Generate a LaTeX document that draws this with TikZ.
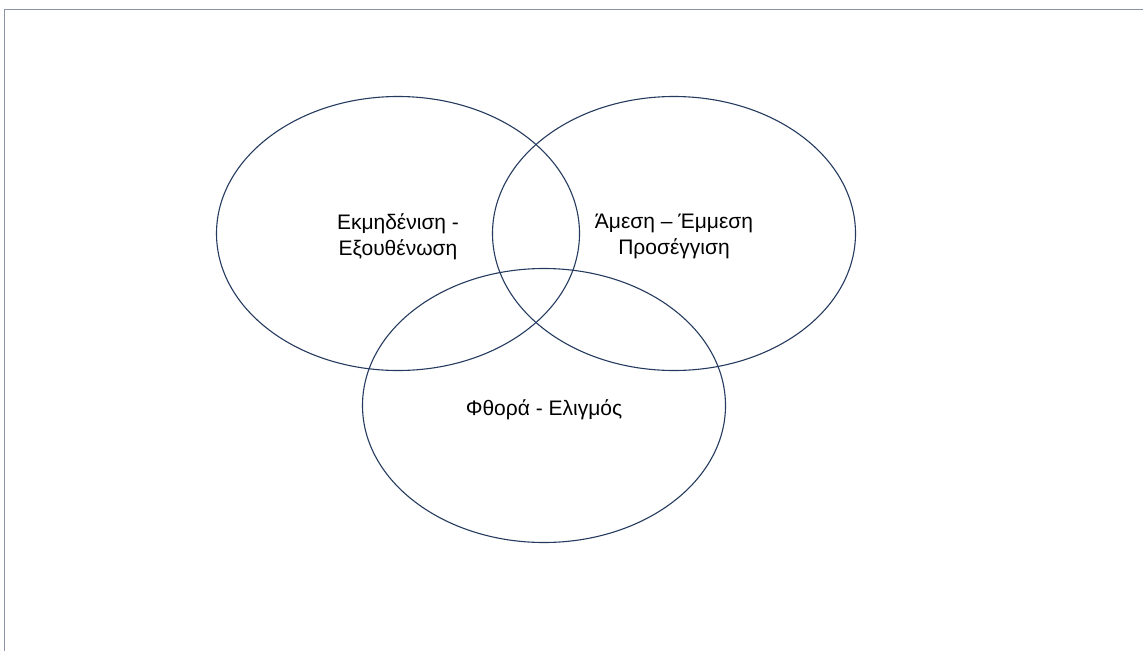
\documentclass[tikz,border=0pt]{standalone}
\usepackage{fontspec}
\setmainfont{Liberation Sans}
\usetikzlibrary{shapes.geometric}
\definecolor{navy}{HTML}{243A5E}
\definecolor{framegray}{HTML}{8C93A6}
\begin{document}
\begin{tikzpicture}[x=1pt,y=-1pt,
  venn/.style={ellipse, draw=navy, line width=1.1pt, minimum width=363pt, minimum height=274pt, inner sep=0pt},
  lbl/.style={align=center, font=\fontsize{21}{26}\selectfont, text=black},
  framel/.style={draw=framegray, line width=1pt}]
\useasboundingbox (0,0) rectangle (1143,651);
\coordinate (fa) at (4.5,651);
\coordinate (fb) at (4.5,9.5);
\coordinate (fc) at (1143,9.5);
\draw[framel] (fa) -- (fb) -- (fc);
\node[venn] (e1) at (398,233.5) {};
\node[venn] (e2) at (674,233.5) {};
\node[venn] (e3) at (544,405.5) {};
\node[lbl] (t1) at ([yshift=-3pt]e1.center) {Εκμηδένιση -\\Εξουθένωση};
\node[lbl] (t2) at ([yshift=-3pt]e2.center) {Άμεση – Έμμεση\\Προσέγγιση};
\node[lbl] (t3) at ([yshift=-4pt]e3.center) {Φθορά - Ελιγμός};
\end{tikzpicture}
\end{document}
